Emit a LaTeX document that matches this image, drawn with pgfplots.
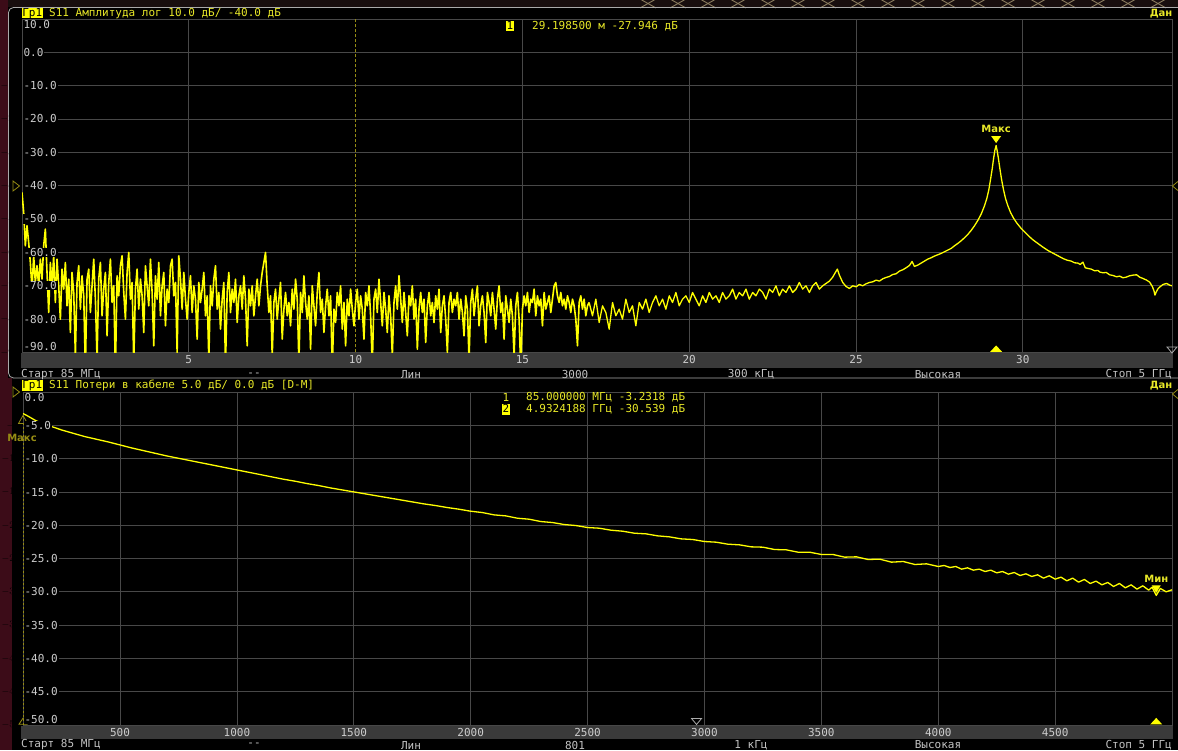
\documentclass[border=0pt]{standalone}
\usepackage{pgfplots}
\pgfplotsset{compat=1.18}
\usepackage{fontspec}
\setmainfont{DejaVu Sans}
\setsansfont{DejaVu Sans}
\setmonofont{DejaVu Sans Mono}
\definecolor{tr}{RGB}{255,255,0}
\definecolor{ty}{RGB}{232,232,40}
\definecolor{grd}{RGB}{72,72,72}
\definecolor{stripc}{RGB}{58,58,58}
\definecolor{lab}{RGB}{205,205,205}
\definecolor{stat}{RGB}{195,195,195}
\definecolor{olv}{RGB}{150,140,20}
\definecolor{maroonc}{RGB}{60,12,24}
\definecolor{topdark}{RGB}{24,14,14}
\definecolor{mesh}{RGB}{140,125,95}
\definecolor{frm}{RGB}{170,170,170}
\newcommand\mf{\ttfamily\fontsize{11}{13}\selectfont}
\newcommand\bs{\sffamily\bfseries\fontsize{10}{12}\selectfont}
\begin{document}
\begin{tikzpicture}
\fill[black] (0,0) rectangle (1178pt,750pt);
\begin{scope}[x=1pt,y=-1pt,yshift=750pt]
  \fill[topdark] (0,0) rectangle (1178,7.5);
  \foreach \i in {0,...,18} {
    \draw[mesh, line width=0.9pt] ({640+\i*30},-1) -- ({656+\i*30},8);
    \draw[mesh, line width=0.9pt] ({656+\i*30},-1) -- ({640+\i*30},8);
  }
  \fill[maroonc] (0,0) rectangle (8,750);
  \fill[maroonc] (0,378) rectangle (12,750);
  \draw[frm, line width=0.8pt, rounded corners=5pt] (8.5,7.5) rectangle (1200,378);
  \fill[stripc] (21,353) rectangle (1173,368);
  \fill[stripc] (21,726) rectangle (1173,739);
\end{scope}

% ---------------- top panel ----------------
\begin{axis}[
  at={(22pt,397.5pt)}, anchor=south west, scale only axis,
  width=1150pt, height=333.5pt,
  xmin=0, xmax=34.47, ymin=-90, ymax=10,
  xtick={5,15,20,25,30}, xticklabels={5,15,20,25,30},
  extra x ticks={10}, extra x tick labels={10}, extra x tick style={grid=none},
  ytick={-90,-80,...,10}, yticklabel={},
  grid=major, major grid style={draw=grd, line width=0.8pt},
  axis line style={draw=grd, line width=0.8pt},
  tick style={draw=none},
  xticklabel style={font=\mf, text=lab, anchor=base, yshift=-11.5pt},
  clip mode=individual,
]
\draw[olv, line width=0.8pt, dash pattern=on 3pt off 2pt] (axis cs:10,-90) -- (axis cs:10,10);
% noisy near range
\addplot[tr, line width=1.6pt, line join=round, no marks] coordinates {
(0,-42)(0.05,-48)(0.1,-58)(0.15,-52)(0.2,-57)(0.25,-63)(0.3,-71)(0.35,-61)(0.4,-69)(0.45,-64)(0.5,-70)(0.55,-62)(0.6,-68)(0.65,-58)(0.7,-53)(0.75,-66)(0.8,-78)(0.85,-63)(0.9,-70)(0.95,-61)
(1,-75)(1.05,-62)(1.1,-70)(1.15,-80)(1.2,-65)(1.25,-71)(1.3,-63)(1.35,-76)(1.4,-68)(1.45,-84)(1.5,-66)(1.55,-72)(1.6,-91)(1.65,-69)(1.7,-64)(1.75,-77)(1.8,-67)(1.85,-73)(1.9,-95)(1.95,-68)
(2,-65)(2.05,-78)(2.1,-70)(2.15,-62)(2.2,-74)(2.25,-92)(2.3,-68)(2.35,-63)(2.4,-79)(2.45,-71)(2.5,-66)(2.55,-85)(2.6,-69)(2.65,-62)(2.7,-75)(2.75,-70)(2.8,-96)(2.85,-67)(2.9,-73)(2.95,-64)
(3,-61)(3.05,-72)(3.1,-80)(3.15,-66)(3.2,-60)(3.25,-74)(3.3,-69)(3.35,-93)(3.4,-71)(3.45,-65)(3.5,-77)(3.55,-68)(3.6,-73)(3.65,-84)(3.7,-64)(3.75,-70)(3.8,-76)(3.85,-62)(3.9,-72)(3.95,-88)
(4,-67)(4.05,-74)(4.1,-63)(4.15,-79)(4.2,-70)(4.25,-66)(4.3,-82)(4.35,-71)(4.4,-75)(4.45,-64)(4.5,-62)(4.55,-73)(4.6,-69)(4.65,-90)(4.7,-61)(4.75,-68)(4.8,-77)(4.85,-66)(4.9,-74)(4.95,-80)
(5,-72)(5.05,-67)(5.1,-78)(5.15,-70)(5.2,-74)(5.25,-86)(5.3,-69)(5.35,-75)(5.4,-71)(5.45,-66)(5.5,-79)(5.55,-73)(5.6,-92)(5.65,-70)(5.7,-76)(5.75,-68)(5.8,-64)(5.85,-77)(5.9,-72)(5.95,-83)
(6,-74)(6.05,-69)(6.1,-94)(6.15,-72)(6.2,-66)(6.25,-78)(6.3,-71)(6.35,-75)(6.4,-68)(6.45,-81)(6.5,-73)(6.55,-70)(6.6,-77)(6.65,-67)(6.7,-74)(6.75,-88)(6.8,-71)(6.85,-76)(6.9,-70)(6.95,-79)
(7,-73)(7.05,-68)(7.1,-76)(7.15,-70)(7.2,-66)(7.25,-63)(7.3,-60)(7.35,-70)(7.4,-78)(7.45,-73)(7.5,-91)(7.55,-75)(7.6,-71)(7.65,-80)(7.7,-74)(7.75,-69)(7.8,-86)(7.85,-77)(7.9,-72)(7.95,-79)
(8,-75)(8.05,-82)(8.1,-71)(8.15,-77)(8.2,-68)(8.25,-74)(8.3,-93)(8.35,-72)(8.4,-78)(8.45,-67)(8.5,-75)(8.55,-80)(8.6,-73)(8.65,-89)(8.7,-70)(8.75,-76)(8.8,-82)(8.85,-72)(8.9,-66)(8.95,-78)
(9,-74)(9.05,-84)(9.1,-76)(9.15,-71)(9.2,-79)(9.25,-73)(9.3,-95)(9.35,-77)(9.4,-81)(9.45,-72)(9.5,-76)(9.55,-70)(9.6,-83)(9.65,-75)(9.7,-88)(9.75,-74)(9.8,-79)(9.85,-71)(9.9,-77)(9.95,-82)
(10,-75)(10.05,-71)(10.1,-80)(10.15,-73)(10.2,-77)(10.25,-86)(10.3,-72)(10.35,-76)(10.4,-70)(10.45,-79)(10.5,-94)(10.55,-74)(10.6,-71)(10.65,-78)(10.7,-68)(10.75,-75)(10.8,-82)(10.85,-72)(10.9,-77)(10.95,-84)
(11,-73)(11.05,-79)(11.1,-91)(11.15,-75)(11.2,-70)(11.25,-77)(11.3,-67)(11.35,-74)(11.4,-81)(11.45,-72)(11.5,-78)(11.55,-85)(11.6,-73)(11.65,-76)(11.7,-70)(11.75,-80)(11.8,-74)(11.85,-89)(11.9,-77)(11.95,-72)
(12,-78)(12.05,-74)(12.1,-87)(12.15,-76)(12.2,-72)(12.25,-79)(12.3,-75)(12.35,-81)(12.4,-73)(12.45,-77)(12.5,-71)(12.55,-84)(12.6,-76)(12.65,-73)(12.7,-80)(12.75,-90)(12.8,-75)(12.85,-72)(12.9,-78)(12.95,-74)
(13,-76)(13.05,-72)(13.1,-80)(13.15,-74)(13.2,-78)(13.25,-85)(13.3,-73)(13.35,-77)(13.4,-92)(13.45,-75)(13.5,-71)(13.55,-79)(13.6,-74)(13.65,-70)(13.7,-82)(13.75,-76)(13.8,-73)(13.85,-78)(13.9,-87)(13.95,-72)
(14,-75)(14.05,-79)(14.1,-72)(14.15,-77)(14.2,-83)(14.25,-74)(14.3,-70)(14.35,-78)(14.4,-75)(14.45,-86)(14.5,-73)(14.55,-77)(14.6,-81)(14.65,-74)(14.7,-79)(14.75,-91)(14.8,-76)(14.85,-72)(14.9,-80)(14.95,-95)
(15,-77)(15.05,-73)(15.1,-76)(15.15,-72)(15.2,-78)(15.25,-74)(15.3,-75)(15.35,-71)(15.4,-79)(15.45,-73)(15.5,-76)(15.55,-74)(15.6,-82)(15.65,-72)(15.7,-77)(15.75,-75)(15.8,-73)(15.85,-78)(15.9,-74)(15.95,-70)
(16,-69)(16.05,-73)(16.1,-75)(16.15,-72)(16.2,-76)(16.25,-74)(16.3,-77)(16.35,-73)(16.4,-75)(16.45,-78)(16.5,-74)(16.55,-76)(16.6,-80)(16.65,-88)(16.7,-75)(16.75,-73)(16.8,-77)(16.85,-74)(16.9,-79)(16.95,-76)
(17,-75)
};
% far range
\addplot[tr, line width=1.3pt, line join=round, no marks] coordinates {
(17,-75)(17.1,-79)(17.2,-74)(17.3,-81)(17.4,-76)(17.5,-78)(17.6,-83)(17.7,-75)(17.8,-79)(17.9,-77)(18,-80)(18.1,-74)(18.2,-78)(18.3,-76)(18.4,-82)(18.5,-75)(18.6,-77)(18.7,-74)(18.8,-78)(18.9,-75)
(19,-73)(19.1,-76)(19.2,-74)(19.3,-77)(19.4,-73)(19.5,-75)(19.6,-72)(19.7,-76)(19.8,-74)(19.9,-73)(20,-75)(20.1,-72)(20.2,-74)(20.3,-76)(20.4,-73)(20.5,-75)(20.6,-72)(20.7,-74)(20.8,-73)(20.9,-75)
(21,-72)(21.1,-74)(21.2,-73)(21.3,-71)(21.4,-74)(21.5,-72)(21.6,-73)(21.7,-71)(21.8,-74)(21.9,-72)(22,-73)(22.1,-71)(22.2,-72)(22.3,-74)(22.4,-71)(22.5,-72)(22.6,-70)(22.7,-73)(22.8,-71)(22.9,-72)
(23,-70)(23.1,-72)(23.2,-71)(23.3,-69)(23.4,-71)(23.5,-70)(23.6,-72)(23.7,-70)(23.8,-69)(23.9,-71)
(24,-70)(24.1,-69.3)(24.2,-68.6)(24.3,-67.4)(24.38,-66)(24.44,-65)(24.5,-66.8)(24.6,-69)(24.7,-70.2)(24.8,-70.8)(24.9,-70)
(25,-70.3)(25.1,-69.6)(25.2,-70)(25.3,-69.4)(25.4,-69)(25.5,-68.8)(25.6,-68.3)(25.7,-68.6)(25.8,-67.9)(25.9,-67.5)(26,-67.2)(26.1,-66.6)(26.2,-66.4)(26.3,-65.6)(26.4,-65.2)(26.5,-64.6)(26.6,-63.9)(26.68,-62.7)(26.75,-64.2)(26.85,-63.8)(26.95,-63.2)
(27.05,-62.6)(27.15,-62)(27.25,-61.6)(27.35,-61.1)(27.45,-60.7)(27.55,-60.3)(27.65,-59.8)(27.75,-59.3)(27.85,-58.8)(27.95,-58)(28.05,-57.3)(28.15,-56.5)(28.25,-55.6)(28.35,-54.6)(28.45,-53.4)(28.55,-52)(28.65,-50.4)(28.75,-48.5)(28.85,-46)(28.92,-43.8)(28.98,-41.2)
(29.03,-38.2)(29.08,-35)(29.12,-32)(29.16,-29.4)(29.1985,-27.946)(29.23,-29.5)(29.27,-32)(29.31,-34.8)(29.36,-38)(29.42,-41.2)(29.48,-43.8)(29.55,-46)(29.63,-48)(29.72,-49.7)(29.82,-51.2)(29.95,-52.8)
(30.07,-54)(30.2,-55.3)(30.3,-56.2)(30.45,-57.3)(30.6,-58.4)(30.75,-59.4)(30.9,-60.2)(31.05,-61)(31.2,-61.8)(31.32,-62.3)(31.45,-62.6)(31.55,-63.1)(31.65,-63.2)(31.72,-63.6)(31.8,-62.9)(31.87,-64.6)(31.95,-64.8)
(32.05,-65)(32.15,-65.5)(32.25,-65.4)(32.31,-65.9)(32.4,-66.1)(32.5,-66)(32.6,-66.7)(32.7,-66.9)(32.81,-67.3)(32.9,-67.1)(33,-67.6)(33.1,-67.4)(33.2,-67)(33.3,-66.8)(33.41,-66.7)(33.5,-67.4)(33.6,-67.8)(33.71,-68.3)(33.8,-68.9)(33.88,-70.2)(33.93,-71.5)(33.96,-72.8)
(34,-71.8)(34.05,-70.9)(34.1,-70.4)(34.2,-69.6)(34.31,-69.3)(34.4,-69.8)(34.47,-70)
};
\fill[tr] (axis cs:29.1985,-27.946) ++(0pt,2.5pt) -- ++(-5pt,7pt) -- ++(10pt,0pt) -- cycle;
\node[font=\bs, text=ty, inner sep=0pt] at ([yshift=16.5pt]axis cs:29.1985,-27.946) {Макс};
\fill[tr] (axis cs:29.1985,-90) ++(-6pt,0.6pt) -- ++(12pt,0pt) -- ++(-6pt,6.5pt) -- cycle;
\end{axis}

% ---------------- bottom panel ----------------
\begin{axis}[
  at={(23pt,25pt)}, anchor=south west, scale only axis,
  width=1149pt, height=333pt,
  xmin=85, xmax=5000, ymin=-50, ymax=0,
  xtick={500,1000,...,4500}, xticklabels={500,1000,1500,2000,2500,3000,3500,4000,4500},
  ytick={-50,-45,...,0}, yticklabel={},
  grid=major, major grid style={draw=grd, line width=0.8pt},
  axis line style={draw=grd, line width=0.8pt},
  tick style={draw=none},
  xticklabel style={font=\mf, text=lab, anchor=base, yshift=-11pt},
  clip mode=individual,
]
\addplot[tr, line width=1.3pt, line join=round, no marks] coordinates {
(85,-3.23)(100,-3.5)(120,-3.9)(140,-4.3)(160,-4.6)(180,-4.85)(200,-5.1)(250,-5.7)(300,-6.2)(350,-6.7)(400,-7.1)(450,-7.5)(500,-7.95)(550,-8.4)(600,-8.8)(650,-9.2)(700,-9.6)(750,-9.95)(800,-10.3)(850,-10.65)(900,-11)(950,-11.35)
(1000,-11.7)(1050,-12.05)(1100,-12.4)(1150,-12.75)(1200,-13.1)(1250,-13.4)(1300,-13.75)(1350,-14.05)(1400,-14.4)(1450,-14.7)(1500,-15)(1550,-15.3)(1600,-15.6)(1650,-15.9)(1700,-16.2)(1750,-16.5)(1800,-16.8)(1850,-17.05)(1900,-17.35)(1950,-17.6)
(2000,-17.9)(2050,-18.1)(2100,-18.45)(2150,-18.6)(2200,-18.95)(2250,-19.1)(2300,-19.45)(2350,-19.6)(2400,-19.9)(2450,-20.05)(2500,-20.35)(2550,-20.45)(2600,-20.75)(2650,-20.9)(2700,-21.2)(2750,-21.3)(2800,-21.6)(2850,-21.75)(2900,-22.05)(2950,-22.15)
(3000,-22.45)(3050,-22.55)(3100,-22.85)(3150,-22.95)(3200,-23.25)(3250,-23.3)(3300,-23.65)(3350,-23.7)(3400,-24.05)(3450,-24.05)(3500,-24.4)(3550,-24.4)(3600,-24.8)(3650,-24.75)(3700,-25.15)(3750,-25.1)(3800,-25.55)(3850,-25.45)(3900,-25.9)(3950,-25.8)
(4000,-26.2)(4025,-26.05)(4050,-26.35)(4075,-26.2)(4100,-26.6)(4125,-26.4)(4150,-26.75)(4175,-26.6)(4200,-26.95)(4225,-26.75)(4250,-27.15)(4275,-26.95)(4300,-27.35)(4325,-27.1)(4350,-27.55)(4375,-27.3)(4400,-27.7)(4425,-27.45)(4450,-27.95)(4475,-27.6)
(4500,-28.1)(4525,-27.8)(4550,-28.35)(4575,-27.95)(4600,-28.55)(4625,-28.15)(4650,-28.75)(4675,-28.4)(4700,-28.95)(4725,-28.6)(4750,-29.2)(4775,-28.75)(4800,-29.4)(4825,-28.95)(4850,-29.6)(4875,-29.1)(4900,-29.75)(4915,-29.3)(4932.4188,-30.539)(4950,-29.5)(4975,-30)(5000,-29.7)
};
\draw[olv, line width=0.8pt, dash pattern=on 2pt off 2pt] (axis cs:85,-50) -- (axis cs:85,-4.6);
\fill[tr] (axis cs:4932.4188,-30.539) ++(0pt,2.5pt) -- ++(-4.5pt,7.5pt) -- ++(9pt,0pt) -- cycle;
\node[font=\bs, text=ty, inner sep=0pt] at ([yshift=17pt]axis cs:4932.4188,-30.539) {Мин};
\fill[tr] (axis cs:4932.4188,-50) ++(-6pt,0.6pt) -- ++(12pt,0pt) -- ++(-6pt,6.5pt) -- cycle;
\draw[olv, line width=0.8pt] (axis cs:85,-50) ++(-4pt,0.8pt) -- ++(8pt,0pt) -- ++(-4pt,6pt) -- cycle;
\draw[frm, line width=0.8pt] (axis cs:2966,-50) ++(-5pt,6.5pt) -- ++(10pt,0pt) -- ++(-5pt,-6pt) -- cycle;
\end{axis}

% ---------------- texts ----------------
\begin{scope}[x=1pt,y=-1pt,yshift=750pt]
  % top header
  \node[anchor=west, fill=tr, text=black, font=\mf, inner xsep=0.6pt, inner ysep=0.6pt, text height=8pt, text depth=1pt] at (21.5,13.3) {Гр1};
  \node[anchor=west, text=ty, font=\mf, inner sep=0pt] at (49,13.5) {S11 Амплитуда лог 10.0 дБ/ -40.0 дБ};
  \node[anchor=east, text=ty, font=\bs, inner sep=0pt] at (1172.5,13.5) {Дан};
  % top readout
  \node[fill=tr, text=black, font=\mf, inner xsep=0.4pt, inner ysep=0.6pt, text height=8pt, text depth=1pt] at (510,26) {1};
  \node[anchor=west, text=ty, font=\mf, inner sep=0pt] at (532,26.5) {29.198500 м -27.946 дБ};
  % top y labels
  \begin{scope}[every node/.style={anchor=west, fill=black, text=lab, font=\mf, inner xsep=0.8pt, inner ysep=0.5pt}]
    \node at (22.6,25) {10.0};
    \node at (22.6,52.4) {0.0};
    \node at (22.6,85.7) {-10.0};
    \node at (22.6,119) {-20.0};
    \node at (22.6,152.4) {-30.0};
    \node at (22.6,185.7) {-40.0};
    \node at (22.6,219) {-50.0};
    \node at (22.6,252.4) {-60.0};
    \node at (22.6,285.7) {-70.0};
    \node at (22.6,319) {-80.0};
    \node at (22.6,346) {-90.0};
  \end{scope}
  % reference level indicators
  \draw[olv, line width=0.8pt] (13,181) -- (19.5,186) -- (13,191) -- cycle;
  \draw[olv, line width=0.8pt] (1178.5,181) -- (1172.5,186) -- (1178.5,191) -- cycle;
  \draw[olv, line width=0.8pt] (13,387) -- (19.5,392) -- (13,397) -- cycle;
  \draw[olv, line width=0.8pt] (1178.5,389) -- (1172.5,394) -- (1178.5,399) -- cycle;
  \draw[frm, line width=0.8pt] (1167,347) -- (1177,347) -- (1172,353) -- cycle;
  % top status row
  \begin{scope}[every node/.style={text=stat, font=\mf, inner sep=0pt}]
    \node[anchor=west] at (21,374.5) {Старт 85 МГц};
    \node at (254,374.5) {--};
    \node at (411,374.5) {Лин};
    \node at (575,374.5) {3000};
    \node at (751,374.5) {300 кГц};
    \node at (938,374.5) {Высокая};
    \node[anchor=east] at (1172,374.5) {Стоп 5 ГГц};
  \end{scope}
  % bottom header
  \node[anchor=west, fill=tr, text=black, font=\mf, inner xsep=0.6pt, inner ysep=0.6pt, text height=8pt, text depth=1pt] at (21.5,385.5) {Гр1};
  \node[anchor=west, text=ty, font=\mf, inner sep=0pt] at (49,385.8) {S11 Потери в кабеле 5.0 дБ/ 0.0 дБ [D-M]};
  \node[anchor=east, text=ty, font=\bs, inner sep=0pt] at (1172.5,386) {Дан};
  % bottom readouts
  \node[text=ty, font=\mf, inner sep=0pt] at (506,397.5) {1};
  \node[anchor=west, text=ty, font=\mf, inner sep=0pt] at (526,397.5) {85.000000 МГц -3.2318 дБ};
  \node[fill=tr, text=black, font=\mf, inner xsep=0.4pt, inner ysep=0.6pt, text height=8pt, text depth=1pt] at (506,409.5) {2};
  \node[anchor=west, text=ty, font=\mf, inner sep=0pt] at (526,409.5) {4.9324188 ГГц -30.539 дБ};
  % inactive marker at start
  \draw[olv, line width=0.8pt] (23,415.5) -- (18.5,423.5) -- (27.5,423.5) -- cycle;
  \node[text=olv, font=\bs, inner sep=0pt] at (22,438) {Макс};
  % bottom y labels
  \begin{scope}[every node/.style={anchor=west, fill=black, text=lab, font=\mf, inner xsep=0.8pt, inner ysep=0.5pt}]
    \node at (23.6,397.5) {0.0};
    \node at (23.6,425.3) {-5.0};
    \node at (23.6,458.6) {-10.0};
    \node at (23.6,492) {-15.0};
    \node at (23.6,525.2) {-20.0};
    \node at (23.6,558.5) {-25.0};
    \node at (23.6,591.8) {-30.0};
    \node at (23.6,625) {-35.0};
    \node at (23.6,658.4) {-40.0};
    \node at (23.6,691.7) {-45.0};
    \node at (23.6,719.5) {-50.0};
  \end{scope}
  % bottom status row
  \begin{scope}[every node/.style={text=stat, font=\mf, inner sep=0pt}]
    \node[anchor=west] at (21,745) {Старт 85 МГц};
    \node at (254,745) {--};
    \node at (411,745) {Лин};
    \node at (575,745) {801};
    \node at (751,745) {1 кГц};
    \node at (938,745) {Высокая};
    \node[anchor=east] at (1172,745) {Стоп 5 ГГц};
  \end{scope}
\end{scope}
\pgfresetboundingbox
\path (0,0) rectangle (1178pt,750pt);
\end{tikzpicture}
\end{document}
